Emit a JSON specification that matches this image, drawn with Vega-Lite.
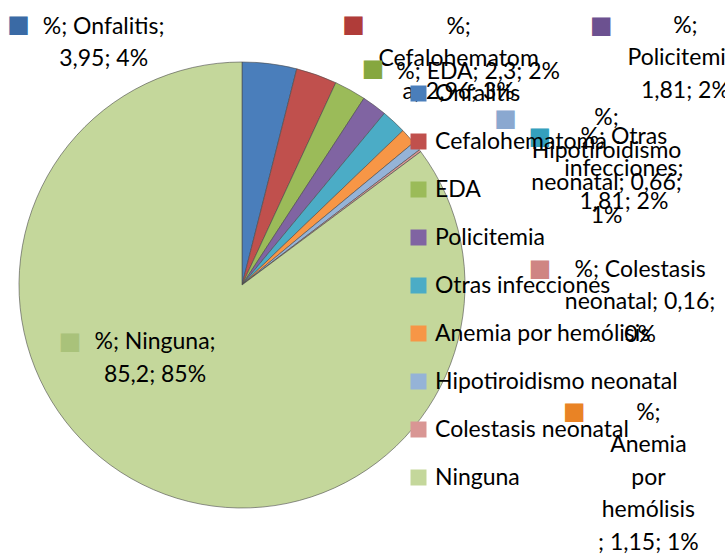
{
  "$schema": "https://vega.github.io/schema/vega-lite/v6.json",
  "width": 446,
  "height": 446,
  "autosize": {"type": "none"},
  "padding": {"left": 19, "top": 62, "right": 260, "bottom": 47},
  "background": "white",
  "config": {"view": {"stroke": null}, "font": "Lato"},
  "data": {
    "values": [
      {"cat": "Onfalitis", "value": 3.95, "idx": 1, "label": "%; Onfalitis;\n3,95; 4%"},
      {"cat": "Cefalohematoma", "value": 2.96, "idx": 2, "label": "%;\nCefalohematom\na; 2,96; 3%"},
      {"cat": "EDA", "value": 2.3, "idx": 3, "label": "%; EDA; 2,3; 2%"},
      {"cat": "Policitemia", "value": 1.81, "idx": 4, "label": "%;\nPolicitemia;\n1,81; 2%"},
      {"cat": "Otras infecciones", "value": 1.81, "idx": 5, "label": "%; Otras\ninfecciones;\n1,81; 2%"},
      {"cat": "Anemia por hemólisis", "value": 1.15, "idx": 6, "label": "%;\nAnemia\npor\nhemólisis\n; 1,15; 1%"},
      {"cat": "Hipotiroidismo neonatal", "value": 0.66, "idx": 7, "label": "%;\nHipotiroidismo\nneonatal; 0,66;\n1%"},
      {"cat": "Colestasis neonatal", "value": 0.16, "idx": 8, "label": "%; Colestasis\nneonatal; 0,16;\n0%"},
      {"cat": "Ninguna", "value": 85.2, "idx": 9, "label": "%; Ninguna;\n85,2; 85%"}
    ]
  },
  "encoding": {
    "theta": {"field": "value", "type": "quantitative", "stack": true},
    "order": {"field": "idx", "type": "quantitative"}
  },
  "layer": [
    {
      "mark": {"type": "arc", "stroke": "#4a4a4a", "strokeWidth": 0.6},
      "encoding": {
        "color": {
          "field": "cat", "type": "nominal",
          "scale": {
            "domain": ["Onfalitis", "Cefalohematoma", "EDA", "Policitemia", "Otras infecciones", "Anemia por hemólisis", "Hipotiroidismo neonatal", "Colestasis neonatal", "Ninguna"],
            "range": ["#4a7ebb", "#c0504d", "#9bbb59", "#8064a2", "#4bacc6", "#f79646", "#95b3d7", "#d99694", "#c4d79b"]
          },
          "legend": {
            "orient": "none", "legendX": 388, "legendY": 20, "title": null,
            "symbolType": "square", "symbolSize": 256, "symbolStrokeWidth": 0,
            "labelFontSize": 23, "labelFont": "Lato", "labelColor": "#000000",
            "rowPadding": 24, "labelOffset": 5, "padding": 0, "labelLimit": 400
          }
        }
      }
    },
    {"mark": {"type": "text", "radius": 223, "fontSize": 23, "lineHeight": 32.5, "lineBreak": "\n", "align": "center", "baseline": "middle", "color": "#000000", "dx": -166, "dy": -37},
     "encoding": {"text": {"condition": {"test": "datum.cat === 'Onfalitis'", "field": "label", "type": "nominal"}, "value": ""}}},
    {"mark": {"type": "text", "radius": 223, "fontSize": 23, "lineHeight": 32.5, "lineBreak": "\n", "align": "center", "baseline": "middle", "color": "#000000", "dx": 142, "dy": -48},
     "encoding": {"text": {"condition": {"test": "datum.cat === 'Cefalohematoma'", "field": "label", "type": "nominal"}, "value": ""}}},
    {"mark": {"type": "text", "radius": 223, "fontSize": 23, "lineHeight": 32.5, "lineBreak": "\n", "align": "center", "baseline": "middle", "color": "#000000", "dx": 128, "dy": -18},
     "encoding": {"text": {"condition": {"test": "datum.cat === 'EDA'", "field": "label", "type": "nominal"}, "value": ""}}},
    {"mark": {"type": "text", "radius": 223, "fontSize": 23, "lineHeight": 32.5, "lineBreak": "\n", "align": "center", "baseline": "middle", "color": "#000000", "dx": 311, "dy": -80},
     "encoding": {"text": {"condition": {"test": "datum.cat === 'Policitemia'", "field": "label", "type": "nominal"}, "value": ""}}},
    {"mark": {"type": "text", "radius": 223, "fontSize": 23, "lineHeight": 32.5, "lineBreak": "\n", "align": "center", "baseline": "middle", "color": "#000000", "dx": 230, "dy": 15},
     "encoding": {"text": {"condition": {"test": "datum.cat === 'Otras infecciones'", "field": "label", "type": "nominal"}, "value": ""}}},
    {"mark": {"type": "text", "radius": 223, "fontSize": 23, "lineHeight": 32.5, "lineBreak": "\n", "align": "center", "baseline": "middle", "color": "#000000", "dx": 240, "dy": 276},
     "encoding": {"text": {"condition": {"test": "datum.cat === 'Anemia por hemólisis'", "field": "label", "type": "nominal"}, "value": ""}}},
    {"mark": {"type": "text", "radius": 223, "fontSize": 23, "lineHeight": 32.5, "lineBreak": "\n", "align": "center", "baseline": "middle", "color": "#000000", "dx": 190, "dy": -28},
     "encoding": {"text": {"condition": {"test": "datum.cat === 'Hipotiroidismo neonatal'", "field": "label", "type": "nominal"}, "value": ""}}},
    {"mark": {"type": "text", "radius": 223, "fontSize": 23, "lineHeight": 32.5, "lineBreak": "\n", "align": "center", "baseline": "middle", "color": "#000000", "dx": 220, "dy": 119},
     "encoding": {"text": {"condition": {"test": "datum.cat === 'Colestasis neonatal'", "field": "label", "type": "nominal"}, "value": ""}}},
    {"mark": {"type": "text", "radius": 223, "fontSize": 23, "lineHeight": 32.5, "lineBreak": "\n", "align": "center", "baseline": "middle", "color": "#000000", "dx": 13, "dy": -142},
     "encoding": {"text": {"condition": {"test": "datum.cat === 'Ninguna'", "field": "label", "type": "nominal"}, "value": ""}}},
    {"mark": {"type": "text", "radius": 223, "font": "DejaVu Sans", "fontSize": 24, "align": "center", "baseline": "middle", "color": "#3a6aa5", "dx": -251, "dy": -39},
     "encoding": {"text": {"condition": {"test": "datum.cat === 'Onfalitis'", "value": "■"}, "value": ""}}},
    {"mark": {"type": "text", "radius": 223, "font": "DejaVu Sans", "fontSize": 24, "align": "center", "baseline": "middle", "color": "#b03c39", "dx": 37, "dy": -50},
     "encoding": {"text": {"condition": {"test": "datum.cat === 'Cefalohematoma'", "value": "■"}, "value": ""}}},
    {"mark": {"type": "text", "radius": 223, "font": "DejaVu Sans", "fontSize": 24, "align": "center", "baseline": "middle", "color": "#86a73f", "dx": 23, "dy": -21},
     "encoding": {"text": {"condition": {"test": "datum.cat === 'EDA'", "value": "■"}, "value": ""}}},
    {"mark": {"type": "text", "radius": 223, "font": "DejaVu Sans", "fontSize": 24, "align": "center", "baseline": "middle", "color": "#6c5190", "dx": 227, "dy": -80},
     "encoding": {"text": {"condition": {"test": "datum.cat === 'Policitemia'", "value": "■"}, "value": ""}}},
    {"mark": {"type": "text", "radius": 223, "font": "DejaVu Sans", "fontSize": 24, "align": "center", "baseline": "middle", "color": "#8aa8d0", "dx": 89, "dy": -27},
     "encoding": {"text": {"condition": {"test": "datum.cat === 'Hipotiroidismo neonatal'", "value": "■"}, "value": ""}}},
    {"mark": {"type": "text", "radius": 223, "font": "DejaVu Sans", "fontSize": 24, "align": "center", "baseline": "middle", "color": "#34a0bd", "dx": 146, "dy": 15},
     "encoding": {"text": {"condition": {"test": "datum.cat === 'Otras infecciones'", "value": "■"}, "value": ""}}},
    {"mark": {"type": "text", "radius": 223, "font": "DejaVu Sans", "fontSize": 24, "align": "center", "baseline": "middle", "color": "#cf8583", "dx": 120, "dy": 118},
     "encoding": {"text": {"condition": {"test": "datum.cat === 'Colestasis neonatal'", "value": "■"}, "value": ""}}},
    {"mark": {"type": "text", "radius": 223, "font": "DejaVu Sans", "fontSize": 24, "align": "center", "baseline": "middle", "color": "#e98325", "dx": 166, "dy": 275},
     "encoding": {"text": {"condition": {"test": "datum.cat === 'Anemia por hemólisis'", "value": "■"}, "value": ""}}},
    {"mark": {"type": "text", "radius": 223, "font": "DejaVu Sans", "fontSize": 24, "align": "center", "baseline": "middle", "color": "#a9c27a", "dx": -72, "dy": -142},
     "encoding": {"text": {"condition": {"test": "datum.cat === 'Ninguna'", "value": "■"}, "value": ""}}}
  ]
}
